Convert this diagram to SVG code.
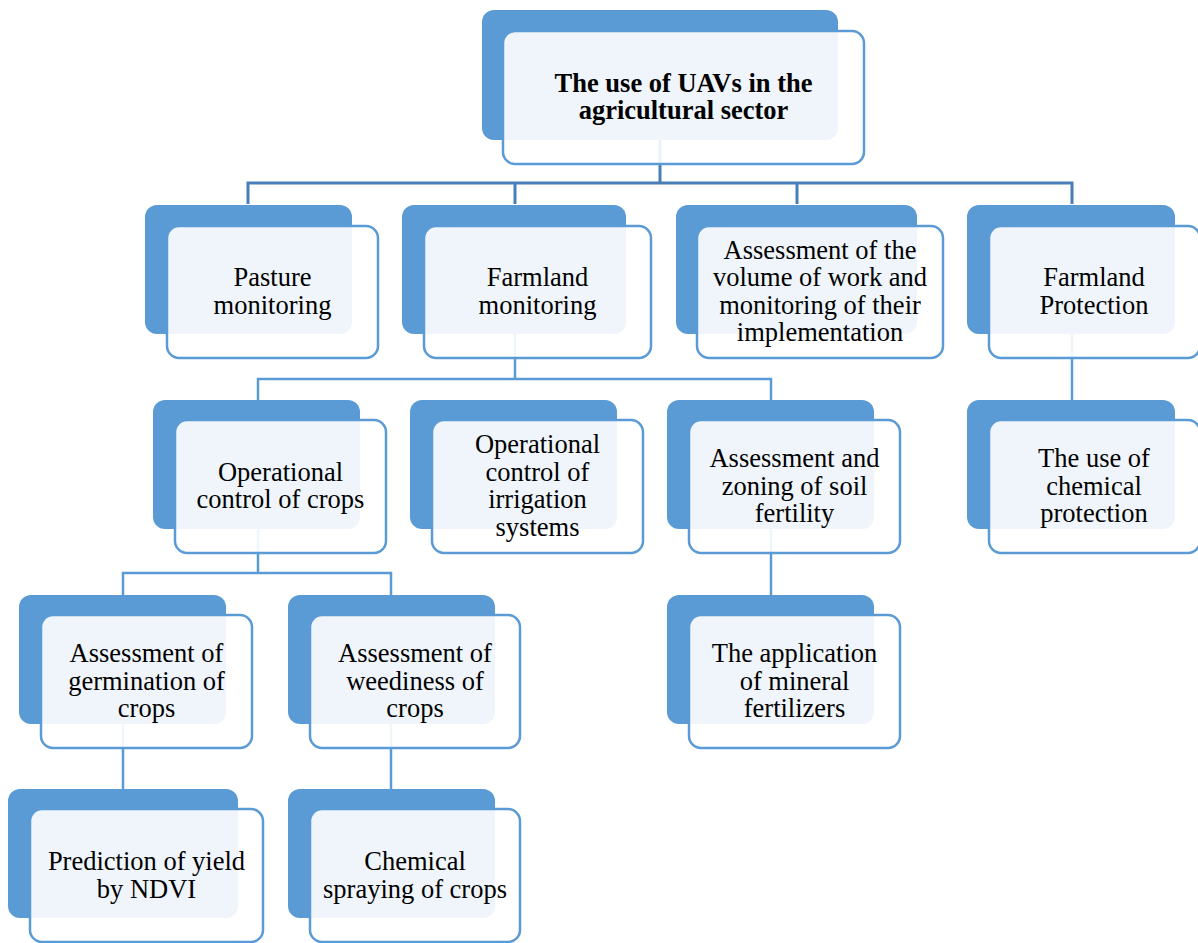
<svg xmlns="http://www.w3.org/2000/svg" width="1198" height="943" viewBox="0 0 1198 943">
<style>
.back{fill:#5b9bd5}
.front{fill:#ffffff;fill-opacity:0.9;stroke:#5b9bd5;stroke-width:2.5}
.t{font-family:'Liberation Serif','Times New Roman',Times,serif;font-size:26.5px;fill:#000;text-anchor:middle}
.b{font-weight:bold}
.c1{stroke:#4a7ebb;stroke-width:3;fill:none}
.c2{stroke:#5b9bd5;stroke-width:2.5;fill:none}
</style>
<rect width="1198" height="943" fill="#ffffff"/>
<g id="connectors">
<path class="c1" d="M660 140V183M248 204V183H1072V204M515 183V204M797 183V204"/>
<path class="c2" d="M515 334V379M258 400V379H771V400M1072 334V400M258 529V573M123 595V573H391V595M771 529V595M123 724V789M391 724V789"/>
</g>
<g id="n0">
<rect class="back" x="482" y="10" width="356" height="130" rx="12"/>
<rect class="front" x="503" y="31" width="361" height="133" rx="12"/>
<text class="t b" font-family="Liberation Serif, serif"><tspan x="683.5" y="92">The use of UAVs in the</tspan><tspan x="683.5" y="119">agricultural sector</tspan></text>
</g>
<g id="n1">
<rect class="back" x="145" y="205" width="207" height="129" rx="12"/>
<rect class="front" x="167" y="226" width="211" height="132" rx="12"/>
<text class="t"><tspan x="272.5" y="286">Pasture</tspan><tspan x="272.5" y="313.5">monitoring</tspan></text>
</g>
<g id="n2">
<rect class="back" x="402" y="205" width="224" height="129" rx="12"/>
<rect class="front" x="424" y="226" width="227" height="132" rx="12"/>
<text class="t"><tspan x="537.5" y="286">Farmland</tspan><tspan x="537.5" y="313.5">monitoring</tspan></text>
</g>
<g id="n3">
<rect class="back" x="676" y="205" width="241" height="129" rx="12"/>
<rect class="front" x="697" y="226" width="246" height="132" rx="12"/>
<text class="t"><tspan x="820" y="258.5">Assessment of the</tspan><tspan x="820" y="286">volume of work and</tspan><tspan x="820" y="313.5">monitoring of their</tspan><tspan x="820" y="341">implementation</tspan></text>
</g>
<g id="n4">
<rect class="back" x="967" y="205" width="208" height="129" rx="12"/>
<rect class="front" x="989" y="226" width="211" height="132" rx="12"/>
<text class="t"><tspan x="1094" y="286">Farmland</tspan><tspan x="1094" y="313.5">Protection</tspan></text>
</g>
<g id="n5">
<rect class="back" x="153" y="400" width="207" height="129" rx="12"/>
<rect class="front" x="175" y="420" width="211" height="133" rx="12"/>
<text class="t"><tspan x="280.5" y="480.5">Operational</tspan><tspan x="280.5" y="508">control of crops</tspan></text>
</g>
<g id="n6">
<rect class="back" x="410" y="400" width="207" height="129" rx="12"/>
<rect class="front" x="432" y="420" width="211" height="133" rx="12"/>
<text class="t"><tspan x="537.5" y="453">Operational</tspan><tspan x="537.5" y="480.5">control of</tspan><tspan x="537.5" y="508">irrigation</tspan><tspan x="537.5" y="535.5">systems</tspan></text>
</g>
<g id="n7">
<rect class="back" x="667" y="400" width="207" height="129" rx="12"/>
<rect class="front" x="689" y="420" width="211" height="133" rx="12"/>
<text class="t"><tspan x="794.5" y="467">Assessment and</tspan><tspan x="794.5" y="494.5">zoning of soil</tspan><tspan x="794.5" y="522">fertility</tspan></text>
</g>
<g id="n8">
<rect class="back" x="967" y="400" width="208" height="129" rx="12"/>
<rect class="front" x="989" y="420" width="211" height="133" rx="12"/>
<text class="t"><tspan x="1094" y="467">The use of</tspan><tspan x="1094" y="494.5">chemical</tspan><tspan x="1094" y="522">protection</tspan></text>
</g>
<g id="n9">
<rect class="back" x="19" y="595" width="207" height="129" rx="12"/>
<rect class="front" x="41" y="615" width="211" height="133" rx="12"/>
<text class="t"><tspan x="146.5" y="662">Assessment of</tspan><tspan x="146.5" y="689.5">germination of</tspan><tspan x="146.5" y="717">crops</tspan></text>
</g>
<g id="n10">
<rect class="back" x="288" y="595" width="207" height="129" rx="12"/>
<rect class="front" x="310" y="615" width="210" height="133" rx="12"/>
<text class="t"><tspan x="415" y="662">Assessment of</tspan><tspan x="415" y="689.5">weediness of</tspan><tspan x="415" y="717">crops</tspan></text>
</g>
<g id="n11">
<rect class="back" x="667" y="595" width="207" height="129" rx="12"/>
<rect class="front" x="689" y="615" width="211" height="133" rx="12"/>
<text class="t"><tspan x="794.5" y="662">The application</tspan><tspan x="794.5" y="689.5">of mineral</tspan><tspan x="794.5" y="717">fertilizers</tspan></text>
</g>
<g id="n12">
<rect class="back" x="8" y="789" width="230" height="129" rx="12"/>
<rect class="front" x="30" y="809" width="233" height="133" rx="12"/>
<text class="t"><tspan x="146.5" y="870">Prediction of yield</tspan><tspan x="146.5" y="897.5">by NDVI</tspan></text>
</g>
<g id="n13">
<rect class="back" x="288" y="789" width="207" height="129" rx="12"/>
<rect class="front" x="310" y="809" width="210" height="133" rx="12"/>
<text class="t"><tspan x="415" y="870">Chemical</tspan><tspan x="415" y="897.5">spraying of crops</tspan></text>
</g>
</svg>
